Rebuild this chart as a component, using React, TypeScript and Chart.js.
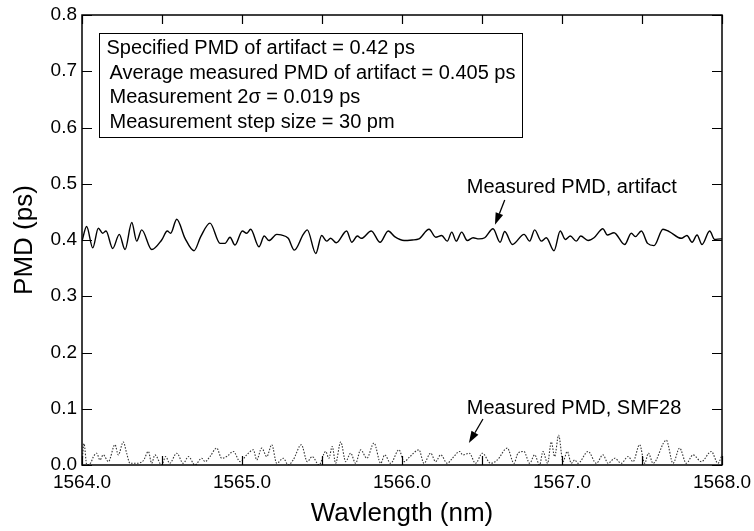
import React, { useEffect, useRef } from "react";
import { Chart, registerables } from "chart.js";

Chart.register(...registerables);

// Measured PMD of the artifact (wavelength in nm, PMD in ps)
const artifactWavelength = [
  1564.0, 1564.029, 1564.067, 1564.102, 1564.129, 1564.15, 1564.192, 1564.233, 1564.269, 1564.311,
  1564.342, 1564.373, 1564.436, 1564.498, 1564.533, 1564.554, 1564.592, 1564.644, 1564.7, 1564.742,
  1564.8, 1564.863, 1564.894, 1564.925, 1564.956, 1565.002, 1565.029, 1565.054, 1565.106, 1565.139,
  1565.169, 1565.217, 1565.244, 1565.289, 1565.327, 1565.383, 1565.408, 1565.461, 1565.498, 1565.529,
  1565.554, 1565.589, 1565.654, 1565.686, 1565.721, 1565.746, 1565.808, 1565.863, 1565.914, 1565.954,
  1566.013, 1566.064, 1566.106, 1566.169, 1566.211, 1566.248, 1566.283, 1566.311, 1566.339, 1566.373,
  1566.408, 1566.444, 1566.481, 1566.517, 1566.569, 1566.613, 1566.642, 1566.69, 1566.763, 1566.798,
  1566.829, 1566.871, 1566.902, 1566.95, 1566.989, 1567.021, 1567.052, 1567.089, 1567.117, 1567.163,
  1567.2, 1567.256, 1567.283, 1567.325, 1567.392, 1567.433, 1567.458, 1567.496, 1567.535, 1567.575,
  1567.631, 1567.67, 1567.746, 1567.781, 1567.813, 1567.844, 1567.875, 1567.923, 1567.954, 1567.994,
  1568.0,
];
const artifactPMD = [
  0.398, 0.424, 0.386, 0.421, 0.412, 0.416, 0.385, 0.41, 0.383, 0.431,
  0.398, 0.418, 0.383, 0.4, 0.416, 0.412, 0.437, 0.403, 0.381, 0.406,
  0.43, 0.394, 0.394, 0.405, 0.391, 0.416, 0.412, 0.419, 0.388, 0.407,
  0.399, 0.41, 0.409, 0.403, 0.382, 0.41, 0.418, 0.376, 0.408, 0.398,
  0.403, 0.395, 0.416, 0.396, 0.407, 0.403, 0.416, 0.396, 0.416, 0.406,
  0.399, 0.4, 0.402, 0.419, 0.405, 0.408, 0.398, 0.414, 0.398, 0.414,
  0.399, 0.404, 0.402, 0.404, 0.42, 0.396, 0.415, 0.392, 0.41, 0.398,
  0.418, 0.398, 0.404, 0.381, 0.416, 0.401, 0.407, 0.398, 0.407, 0.399,
  0.404, 0.42, 0.409, 0.413, 0.392, 0.412, 0.406, 0.416, 0.394, 0.39,
  0.419, 0.415, 0.403, 0.408, 0.396, 0.409, 0.392, 0.416, 0.401, 0.402,
  0.402,
];

// Measured PMD of SMF28 fibre
const smfWavelength = [
  1564.0, 1564.0125, 1564.03, 1564.055, 1564.07, 1564.092, 1564.112, 1564.133, 1564.165, 1564.206,
  1564.227, 1564.258, 1564.279, 1564.3, 1564.34, 1564.384, 1564.415, 1564.435, 1564.456, 1564.498,
  1564.523, 1564.548, 1564.592, 1564.633, 1564.665, 1564.706, 1564.748, 1564.769, 1564.8, 1564.842,
  1564.873, 1564.904, 1564.946, 1564.988, 1565.029, 1565.071, 1565.092, 1565.123, 1565.155, 1565.186,
  1565.217, 1565.258, 1565.289, 1565.32, 1565.371, 1565.408, 1565.439, 1565.481, 1565.523, 1565.543,
  1565.564, 1565.585, 1565.617, 1565.648, 1565.679, 1565.71, 1565.742, 1565.78, 1565.825, 1565.867,
  1565.892, 1565.929, 1565.981, 1566.013, 1566.05, 1566.106, 1566.137, 1566.179, 1566.21, 1566.242,
  1566.283, 1566.315, 1566.36, 1566.38, 1566.42, 1566.46, 1566.502, 1566.554, 1566.596, 1566.658,
  1566.7, 1566.725, 1566.762, 1566.798, 1566.829, 1566.86, 1566.881, 1566.91, 1566.933, 1566.954,
  1566.979, 1567.006, 1567.033, 1567.058, 1567.08, 1567.1, 1567.163, 1567.215, 1567.256, 1567.288,
  1567.33, 1567.37, 1567.413, 1567.444, 1567.485, 1567.517, 1567.54, 1567.569, 1567.652, 1567.694,
  1567.735, 1567.777, 1567.819, 1567.871, 1567.933, 1567.975, 1568.0,
];
const smfPMD = [
  0.003, 0.038, 0.0, 0.004, 0.014, 0.021, 0.009, 0.018, 0.006, 0.036,
  0.018, 0.041, 0.021, 0.003, 0.003, 0.008, 0.024, 0.003, 0.018, 0.0,
  0.015, 0.003, 0.021, 0.003, 0.015, 0.0, 0.012, 0.006, 0.015, 0.03,
  0.012, 0.015, 0.024, 0.006, 0.018, 0.027, 0.009, 0.03, 0.015, 0.036,
  0.003, 0.012, 0.0, 0.009, 0.036, 0.006, 0.015, 0.0, 0.024, 0.012,
  0.033, 0.003, 0.041, 0.006, 0.021, 0.003, 0.027, 0.012, 0.039, 0.003,
  0.018, 0.003, 0.027, 0.006, 0.015, 0.027, 0.003, 0.021, 0.006, 0.018,
  0.003, 0.012, 0.024, 0.018, 0.021, 0.003, 0.021, 0.003, 0.009, 0.03,
  0.003, 0.021, 0.024, 0.003, 0.018, 0.0, 0.024, 0.003, 0.041, 0.015,
  0.053, 0.006, 0.024, 0.003, 0.009, 0.003, 0.024, 0.003, 0.018, 0.003,
  0.012, 0.003, 0.015, 0.006, 0.036, 0.003, 0.021, 0.003, 0.044, 0.003,
  0.03, 0.003, 0.018, 0.006, 0.024, 0.003, 0.018,
];

// Axis ticks
const yTickValues = [0, 0.1, 0.2, 0.3, 0.4, 0.5, 0.6, 0.7, 0.8];
const xTickMarks = [1564, 1564.5, 1565, 1565.5, 1566, 1566.5, 1567, 1567.5, 1568];

// Text box contents
const boxLines = [
  "Specified PMD of artifact = 0.42 ps",
  "Average measured PMD of artifact = 0.405 ps",
  "Measurement 2σ = 0.019 ps",
  "Measurement step size = 30 pm",
];

// Annotations: label anchor (left edge, vertical centre) and arrow [tailX, tailY, headX, headY] in data units
const artifactLabel = { text: "Measured PMD, artifact", x: 1566.405, y: 0.494 };
const artifactArrow = [1566.642, 0.471, 1566.581, 0.427];
const smfLabel = { text: "Measured PMD, SMF28", x: 1566.405, y: 0.0996 };
const smfArrow = [1566.506, 0.0818, 1566.418, 0.039];

const FONT = '"Liberation Sans", Arial, Helvetica, sans-serif';

function toPoints(xs: number[], ys: number[]) {
  return xs.map((x, i) => ({ x, y: ys[i] }));
}

const overlayPlugin = {
  id: "overlay",
  afterDatasetsDraw(chart: any) {
    const { ctx, chartArea: a, scales } = chart;
    const xs = scales.x;
    const ys = scales.y;
    ctx.save();
    ctx.strokeStyle = "#000";
    ctx.fillStyle = "#000";

    // frame
    ctx.lineWidth = 1.5;
    ctx.strokeRect(a.left, a.top, a.right - a.left, a.bottom - a.top);

    // inward ticks
    ctx.lineWidth = 1.2;
    ctx.beginPath();
    for (const v of yTickValues) {
      const py = Math.round(ys.getPixelForValue(v)) + 0.5;
      ctx.moveTo(a.left, py);
      ctx.lineTo(a.left + 10, py);
      ctx.moveTo(a.right, py);
      ctx.lineTo(a.right - 10, py);
    }
    for (const v of xTickMarks) {
      const px = Math.round(xs.getPixelForValue(v)) + 0.5;
      ctx.moveTo(px, a.bottom);
      ctx.lineTo(px, a.bottom - 9);
      ctx.moveTo(px, a.top);
      ctx.lineTo(px, a.top + 9);
    }
    ctx.stroke();

    // text box
    ctx.font = `20px ${FONT}`;
    const bx = Math.round(xs.getPixelForValue(1564.106)) + 0.5;
    const by = Math.round(ys.getPixelForValue(0.768)) + 0.5;
    const lineH = 24.5;
    let maxW = 0;
    for (const t of boxLines) maxW = Math.max(maxW, ctx.measureText(t).width);
    const bw = Math.round(maxW + 17);
    const bh = Math.round(lineH * boxLines.length + 6);
    ctx.fillStyle = "#fff";
    ctx.fillRect(bx, by, bw, bh);
    ctx.lineWidth = 1;
    ctx.strokeRect(bx, by, bw, bh);
    ctx.fillStyle = "#000";
    ctx.textBaseline = "middle";
    ctx.textAlign = "left";
    boxLines.forEach((t, i) => {
      ctx.fillText(t, bx + (i === 0 ? 7 : 10), by + 3 + lineH * (i + 0.5));
    });

    // labels with arrows
    const drawLabel = (lab: any, arr: number[]) => {
      ctx.font = `20px ${FONT}`;
      ctx.textAlign = "left";
      ctx.textBaseline = "middle";
      ctx.fillText(lab.text, xs.getPixelForValue(lab.x), ys.getPixelForValue(lab.y));
      const x1 = xs.getPixelForValue(arr[0]);
      const y1 = ys.getPixelForValue(arr[1]);
      const x2 = xs.getPixelForValue(arr[2]);
      const y2 = ys.getPixelForValue(arr[3]);
      const ang = Math.atan2(y2 - y1, x2 - x1);
      const hl = 12;
      const hw = 4;
      const bxp = x2 - hl * Math.cos(ang);
      const byp = y2 - hl * Math.sin(ang);
      ctx.lineWidth = 1.3;
      ctx.beginPath();
      ctx.moveTo(x1, y1);
      ctx.lineTo(bxp, byp);
      ctx.stroke();
      ctx.beginPath();
      ctx.moveTo(x2, y2);
      ctx.lineTo(bxp + hw * Math.sin(ang), byp - hw * Math.cos(ang));
      ctx.lineTo(bxp - hw * Math.sin(ang), byp + hw * Math.cos(ang));
      ctx.closePath();
      ctx.fill();
    };
    drawLabel(artifactLabel, artifactArrow);
    drawLabel(smfLabel, smfArrow);
    ctx.restore();
  },
};

export default function App() {
  const ref = useRef<HTMLCanvasElement | null>(null);
  useEffect(() => {
    document.body.style.margin = "0";
    const canvas = ref.current!;
    const chart = new Chart(canvas, {
      type: "line",
      data: {
        datasets: [
          {
            label: "Measured PMD, artifact",
            data: toPoints(artifactWavelength, artifactPMD),
            borderColor: "#000",
            borderWidth: 1.4,
            pointRadius: 0,
            cubicInterpolationMode: "monotone",
            fill: false,
          },
          {
            label: "Measured PMD, SMF28",
            data: toPoints(smfWavelength, smfPMD),
            borderColor: "#333",
            borderWidth: 1.1,
            borderDash: [1.5, 1.5],
            pointRadius: 0,
            cubicInterpolationMode: "monotone",
            fill: false,
          },
        ],
      },
      options: {
        animation: false,
        responsive: false,
        devicePixelRatio: 1,
        layout: { padding: { top: 15, right: 32, left: 0, bottom: 0 } },
        plugins: { legend: { display: false }, tooltip: { enabled: false } },
        scales: {
          x: {
            type: "linear",
            min: 1564,
            max: 1568,
            grid: { display: false, drawTicks: false },
            border: { display: false },
            ticks: {
              stepSize: 1,
              maxRotation: 0,
              padding: 6,
              color: "#000",
              font: { family: FONT, size: 19 },
              callback: (v: any) => Number(v).toFixed(1),
            },
            title: {
              display: true,
              text: "Wavlength (nm)",
              color: "#000",
              font: { family: FONT, size: 26 },
              padding: { top: 0, bottom: 2 },
            },
            afterFit: (s: any) => {
              s.height = 66;
              s.paddingLeft = 0;
              s.paddingRight = 0;
            },
          },
          y: {
            type: "linear",
            min: 0,
            max: 0.8,
            grid: { display: false, drawTicks: false },
            border: { display: false },
            ticks: {
              stepSize: 0.1,
              padding: 5,
              color: "#000",
              font: { family: FONT, size: 19 },
              callback: (v: any) => Number(v).toFixed(1),
            },
            title: {
              display: true,
              text: "PMD (ps)",
              color: "#000",
              font: { family: FONT, size: 26 },
              padding: { top: 9, bottom: 0 },
            },
            afterFit: (s: any) => {
              s.width = 82;
              s.paddingTop = 0;
              s.paddingBottom = 0;
            },
          },
        },
      },
      plugins: [overlayPlugin],
    });
    return () => chart.destroy();
  }, []);
  return (
    <div style={{ position: "absolute", left: 0, top: 0, width: 754, height: 531, background: "#fff" }}>
      <canvas ref={ref} width={754} height={531} />
    </div>
  );
}
